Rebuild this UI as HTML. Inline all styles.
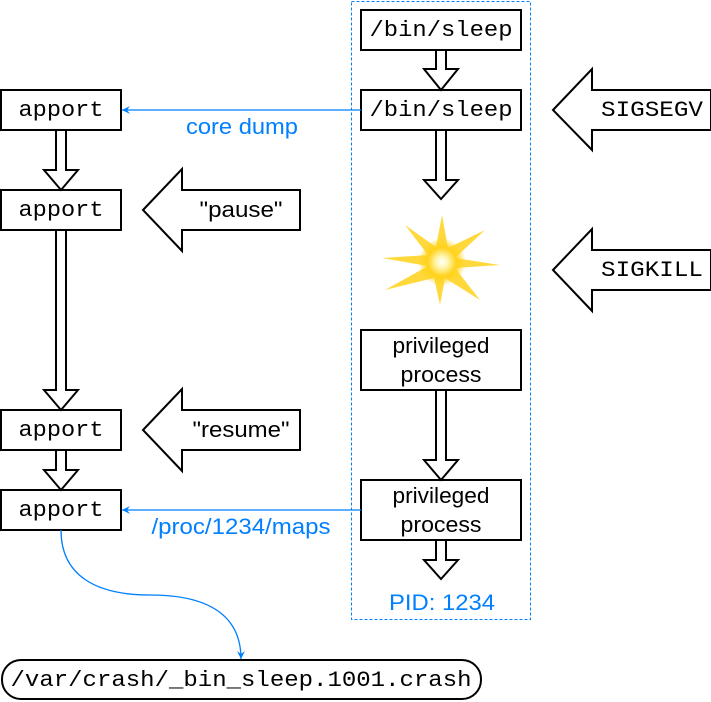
<!DOCTYPE html>
<html><head><style>body{margin:0;background:#fff}svg{display:block}</style></head><body>
<svg width="711" height="702" xmlns="http://www.w3.org/2000/svg">
<defs>
<radialGradient id="g" cx="50%" cy="50%" r="50%"><stop offset="0" stop-color="#fff"/><stop offset="0.25" stop-color="#fff6b0"/><stop offset="0.6" stop-color="#ffd21a"/><stop offset="1" stop-color="#ffd21a" stop-opacity="0"/></radialGradient>
<marker id="ah" markerWidth="10" markerHeight="10" refX="8" refY="5" orient="auto" markerUnits="userSpaceOnUse"><path d="M0,1 L8,5 L0,9 L3,5 Z" fill="#007fff"/></marker>
</defs>
<rect x="351.5" y="1.5" width="179" height="618" fill="none" stroke="#007fff" stroke-dasharray="3,2"/>
<g fill="#fff" stroke="#000" stroke-width="2">
<rect x="361" y="10" width="160" height="40"/>
<rect x="361" y="90" width="160" height="40"/>
<rect x="361" y="330" width="160" height="60"/>
<rect x="361" y="480" width="160" height="60"/>
<rect x="1" y="90" width="120" height="40"/>
<rect x="1" y="190" width="120" height="40"/>
<rect x="1" y="410" width="120" height="40"/>
<rect x="1" y="490" width="120" height="40"/>
<rect x="2" y="660" width="479" height="39" rx="19"/>
<path d="M436,50 L446,50 L446,69 L458,69 L441,90 L424,69 L436,69 Z"/>
<path d="M436,130 L446,130 L446,180 L458,180 L441,199 L424,180 L436,180 Z"/>
<path d="M436,390 L446,390 L446,460 L458,460 L441,480 L424,460 L436,460 Z"/>
<path d="M436,540 L446,540 L446,560 L458,560 L441,579 L424,560 L436,560 Z"/>
<path d="M56,130 L66,130 L66,170 L78,170 L61,190 L44,170 L56,170 Z"/>
<path d="M56,230 L66,230 L66,390 L78,390 L61,410 L44,390 L56,390 Z"/>
<path d="M56,450 L66,450 L66,470 L78,470 L61,490 L44,470 L56,470 Z"/>
<path d="M553,110 L592,69 L592,90 L711,90 L711,130 L592,130 L592,150 Z"/>
<path d="M553,270 L592,229 L592,250 L711,250 L711,290 L592,290 L592,311 Z"/>
<path d="M143,210 L182,169 L182,190 L300,190 L300,230 L182,230 L182,251 Z"/>
<path d="M143,430 L182,389 L182,410 L300,410 L300,450 L182,450 L182,471 Z"/>
</g>
<g>
<polygon points="442,215 448,248 485,230 455,258 500,265 455,268 480,300 445,278 440,305 434,278 385,290 428,266 382,258 428,255 405,225 436,247" fill="#ffd21a" opacity="0.85"/>
<circle cx="442" cy="262" r="24" fill="url(#g)"/>
</g>
<g stroke="#007fff" stroke-width="1.3" fill="none">
<line x1="361" y1="110" x2="122" y2="110" marker-end="url(#ah)"/>
<line x1="361" y1="510" x2="122" y2="510" marker-end="url(#ah)"/>
<path d="M61,530 C61,575 95,595 150,595 C215,595 241,620 241,659" marker-end="url(#ah)"/>
</g>
<g font-family="Liberation Mono, monospace" font-size="22" text-anchor="middle" fill="#000" lengthAdjust="spacingAndGlyphs">
<text x="441" y="36" textLength="143" lengthAdjust="spacingAndGlyphs">/bin/sleep</text>
<text x="441" y="116" textLength="143" lengthAdjust="spacingAndGlyphs">/bin/sleep</text>
<text x="61" y="116" textLength="85" lengthAdjust="spacingAndGlyphs">apport</text>
<text x="61" y="216" textLength="85" lengthAdjust="spacingAndGlyphs">apport</text>
<text x="61" y="436" textLength="85" lengthAdjust="spacingAndGlyphs">apport</text>
<text x="61" y="516" textLength="85" lengthAdjust="spacingAndGlyphs">apport</text>
<text x="652" y="116" textLength="102" lengthAdjust="spacingAndGlyphs">SIGSEGV</text>
<text x="652" y="276" textLength="102" lengthAdjust="spacingAndGlyphs">SIGKILL</text>
<text x="241" y="686" textLength="461" lengthAdjust="spacingAndGlyphs">/var/crash/_bin_sleep.1001.crash</text>
</g>
<g font-family="Liberation Sans, sans-serif" font-size="22" text-anchor="middle">
<text x="441" y="353" textLength="97" lengthAdjust="spacingAndGlyphs">privileged</text>
<text x="441" y="382" textLength="81" lengthAdjust="spacingAndGlyphs">process</text>
<text x="441" y="503" textLength="97" lengthAdjust="spacingAndGlyphs">privileged</text>
<text x="441" y="532" textLength="81" lengthAdjust="spacingAndGlyphs">process</text>
<text x="241" y="217" textLength="83" lengthAdjust="spacingAndGlyphs">"pause"</text>
<text x="241" y="437" textLength="97" lengthAdjust="spacingAndGlyphs">"resume"</text>
<g fill="#007fff"><text x="242" y="134" textLength="112" lengthAdjust="spacingAndGlyphs">core dump</text>
<text x="241" y="534" textLength="179" lengthAdjust="spacingAndGlyphs">/proc/1234/maps</text>
<text x="442" y="610" textLength="106" lengthAdjust="spacingAndGlyphs">PID: 1234</text></g>
</g>
</svg>
</body></html>
